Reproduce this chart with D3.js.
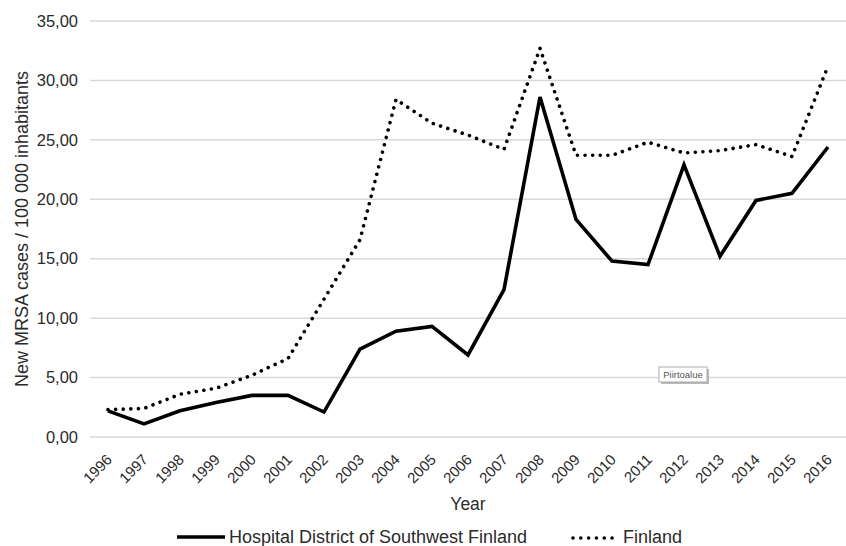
<!DOCTYPE html>
<html>
<head>
<meta charset="utf-8">
<script src="https://cdn.jsdelivr.net/npm/d3@7"></script>
<style>
  html, body { margin: 0; padding: 0; background: #fff; }
  svg { display: block; font-family: "Liberation Sans", Arial, sans-serif; }
</style>
</head>
<body>
<svg id="chart" width="846" height="546"></svg>
<script>
const years = ["1996","1997","1998","1999","2000","2001","2002","2003","2004","2005","2006","2007","2008","2009","2010","2011","2012","2013","2014","2015","2016"];
const southwest = [2.2, 1.1, 2.2, 2.9, 3.5, 3.5, 2.1, 7.4, 8.9, 9.3, 6.9, 12.4, 28.6, 18.3, 14.8, 14.5, 22.9, 15.2, 19.9, 20.5, 24.4];
const finland = [2.3, 2.4, 3.6, 4.1, 5.2, 6.6, 11.6, 16.6, 28.4, 26.4, 25.4, 24.2, 32.7, 23.7, 23.7, 24.8, 23.9, 24.1, 24.6, 23.6, 31.2];
const yTicks = [0, 5, 10, 15, 20, 25, 30, 35];
const seriesNames = ["Hospital District of Southwest Finland", "Finland"];

const svg = d3.select("#chart");
const textColor = "#2b2b2b";

const x = d3.scaleBand().domain(years).range([90, 846]);
const y = d3.scaleLinear().domain([0, 35]).range([437, 21]);
const cx = d => x(d) + x.bandwidth() / 2;

// gridlines
svg.append("g").selectAll("line").data(yTicks).join("line")
  .attr("x1", 90).attr("x2", 846)
  .attr("y1", d => y(d)).attr("y2", d => y(d))
  .attr("stroke", "#d9d9d9").attr("stroke-width", 1.5);

// y axis
const yAxis = svg.append("g").attr("transform", "translate(84,0)")
  .call(d3.axisLeft(y).tickValues(yTicks).tickSize(0).tickPadding(6)
    .tickFormat(d => d3.format(".2f")(d).replace(".", ",")));
yAxis.select(".domain").remove();
yAxis.selectAll("text").attr("fill", textColor).style("font-size", "16.5px")
  .style("font-family", "Liberation Sans, Arial, sans-serif");

// x axis
const xAxis = svg.append("g").attr("transform", "translate(0,444)")
  .call(d3.axisBottom(x).tickSize(0).tickPadding(0));
xAxis.select(".domain").remove();
xAxis.selectAll("text")
  .attr("fill", textColor).style("font-size", "15px")
  .style("font-family", "Liberation Sans, Arial, sans-serif")
  .attr("text-anchor", "end")
  .attr("y", 0).attr("dy", "0").attr("dx", "0")
  .attr("transform", "translate(5,16.6) rotate(-45)");

// axis titles
svg.append("text").attr("x", 468).attr("y", 510).attr("text-anchor", "middle")
  .attr("fill", textColor).style("font-size", "17.5px").text("Year");
svg.append("text").attr("transform", "translate(28,229) rotate(-90)")
  .attr("text-anchor", "middle").attr("fill", textColor).style("font-size", "18px")
  .text("New MRSA cases / 100 000 inhabitants");

// lines
const line = d3.line().x((d, i) => cx(years[i])).y(d => y(d));
svg.append("path").datum(finland).attr("d", line)
  .attr("fill", "none").attr("stroke", "#000").attr("stroke-width", 3.6)
  .attr("stroke-linecap", "round").attr("stroke-dasharray", "0.01 7.6");
svg.append("path").datum(southwest).attr("d", line)
  .attr("fill", "none").attr("stroke", "#000").attr("stroke-width", 3.6)
  .attr("stroke-linejoin", "miter");

// Piirtoalue tooltip box
const tip = svg.append("g").attr("transform", "translate(659,367)");
tip.append("rect").attr("x", 2).attr("y", 2).attr("width", 48).attr("height", 15).attr("fill", "#bbb");
tip.append("rect").attr("x", 0).attr("y", 0).attr("width", 48).attr("height", 15)
  .attr("fill", "#fff").attr("stroke", "#999").attr("stroke-width", 0.8);
tip.append("text").attr("x", 24).attr("y", 11).attr("text-anchor", "middle")
  .attr("fill", "#555").style("font-size", "9.5px").text("Piirtoalue");

// legend
const leg = svg.append("g");
leg.append("line").attr("x1", 177).attr("x2", 225).attr("y1", 537).attr("y2", 537)
  .attr("stroke", "#000").attr("stroke-width", 3.6);
leg.append("text").attr("x", 229).attr("y", 543).attr("fill", textColor)
  .style("font-size", "18px").text(seriesNames[0]);
leg.append("line").attr("x1", 573).attr("x2", 613).attr("y1", 538).attr("y2", 538)
  .attr("stroke", "#000").attr("stroke-width", 3.6)
  .attr("stroke-linecap", "round").attr("stroke-dasharray", "0.01 7.8");
leg.append("text").attr("x", 623).attr("y", 543).attr("fill", textColor)
  .style("font-size", "18px").text(seriesNames[1]);
</script>
</body>
</html>
